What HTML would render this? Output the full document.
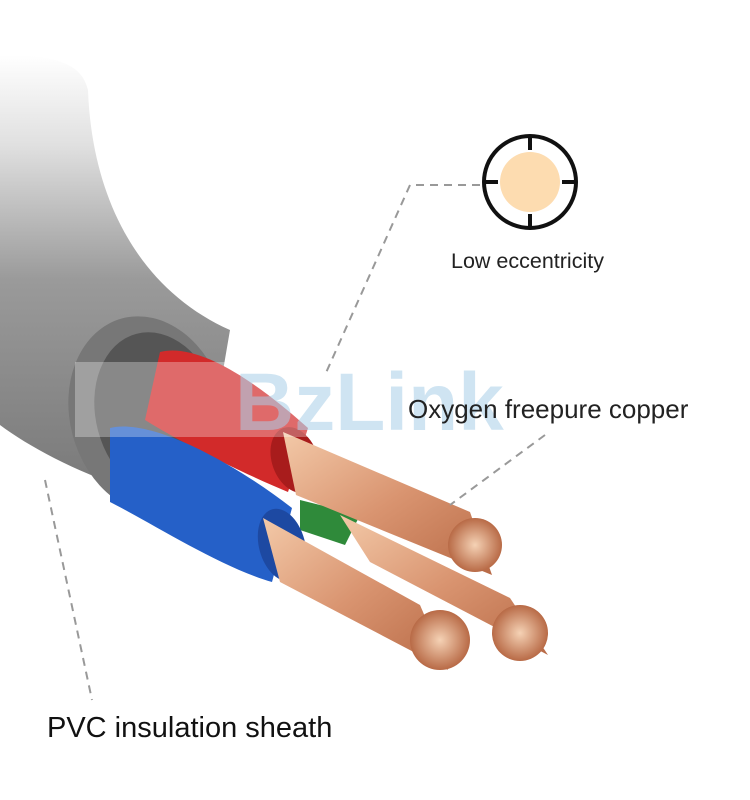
<!DOCTYPE html>
<html><head><meta charset="utf-8"><style>
html,body{margin:0;padding:0;background:#fff;}
svg{display:block}
text{font-family:"Liberation Sans",sans-serif;}
</style></head><body>
<svg width="750" height="800" viewBox="0 0 750 800" xmlns="http://www.w3.org/2000/svg">
<defs>
<linearGradient id="body" x1="0" y1="0" x2="0" y2="1">
<stop offset="0" stop-color="#fff"/>
<stop offset="0.2" stop-color="#e0e0e0"/>
<stop offset="0.5" stop-color="#9a9a9a"/>
<stop offset="1" stop-color="#777"/>
</linearGradient>
<linearGradient id="cu" x1="0" y1="0" x2="1" y2="1">
<stop offset="0" stop-color="#f3c9a8"/>
<stop offset="0.5" stop-color="#d99470"/>
<stop offset="1" stop-color="#b86a46"/>
</linearGradient>
<radialGradient id="tip" cx="0.5" cy="0.5" r="0.5">
<stop offset="0" stop-color="#f5d2b5"/><stop offset="1" stop-color="#b86a46"/>
</radialGradient>
</defs>
<rect width="750" height="800" fill="#fff"/>
<path d="M0,55 C60,55 82,65 88,90 C92,200 140,290 230,330 L200,505 C120,495 40,455 0,425 Z" fill="url(#body)"/>
<ellipse cx="148" cy="415" rx="78" ry="100" transform="rotate(-15 148 415)" fill="#777"/>
<ellipse cx="158" cy="415" rx="62" ry="84" transform="rotate(-15 158 415)" fill="#555"/>
<path d="M160,352 C200,342 260,385 308,428 L288,492 C240,472 180,442 145,420 Z" fill="#d22a2a"/>
<ellipse cx="295" cy="460" rx="23" ry="34" transform="rotate(-20 295 460)" fill="#a81c1c"/>
<path d="M300,500 L360,515 L345,545 L300,530 Z" fill="#2f8a3a"/>
<path d="M110,428 C150,418 230,460 292,508 L272,582 C220,567 150,522 110,502 Z" fill="#2560c8"/>
<ellipse cx="282" cy="545" rx="23" ry="37" transform="rotate(-15 282 545)" fill="#1d49a2"/>
<path d="M283,432 L470,512 L492,575 L296,495 Z" fill="url(#cu)"/>
<path d="M263,518 L420,605 L448,670 L280,582 Z" fill="url(#cu)"/>
<path d="M340,515 L510,598 L548,655 L370,562 Z" fill="url(#cu)"/>
<circle cx="475" cy="545" r="27" fill="url(#tip)"/>
<circle cx="520" cy="633" r="28" fill="url(#tip)"/>
<circle cx="440" cy="640" r="30" fill="url(#tip)"/>
<rect x="75" y="362" width="420" height="75" fill="#fff" opacity="0.3"/>
<text x="235" y="430" font-size="82" font-weight="bold" fill="#a9cfe8" opacity="0.55">BzLink</text>
<circle cx="530" cy="182" r="46" fill="#fff" stroke="#111" stroke-width="4"/>
<circle cx="530" cy="182" r="30" fill="#fddcb0"/>
<path d="M530,136 v14 M530,214 v14 M484,182 h14 M562,182 h14" stroke="#111" stroke-width="4"/>
<g stroke="#999" stroke-width="2" stroke-dasharray="8,6" fill="none">
<path d="M480,185 H410 L325,375"/>
<path d="M545,435 L450,505"/>
<path d="M45,480 L92,700"/>
</g>
<text x="451" y="268" font-size="21.5" fill="#222">Low eccentricity</text>
<text x="408" y="418" font-size="26" fill="#222">Oxygen freepure copper</text>
<text x="47" y="737" font-size="29" fill="#111">PVC insulation sheath</text>
</svg>
</body></html>
